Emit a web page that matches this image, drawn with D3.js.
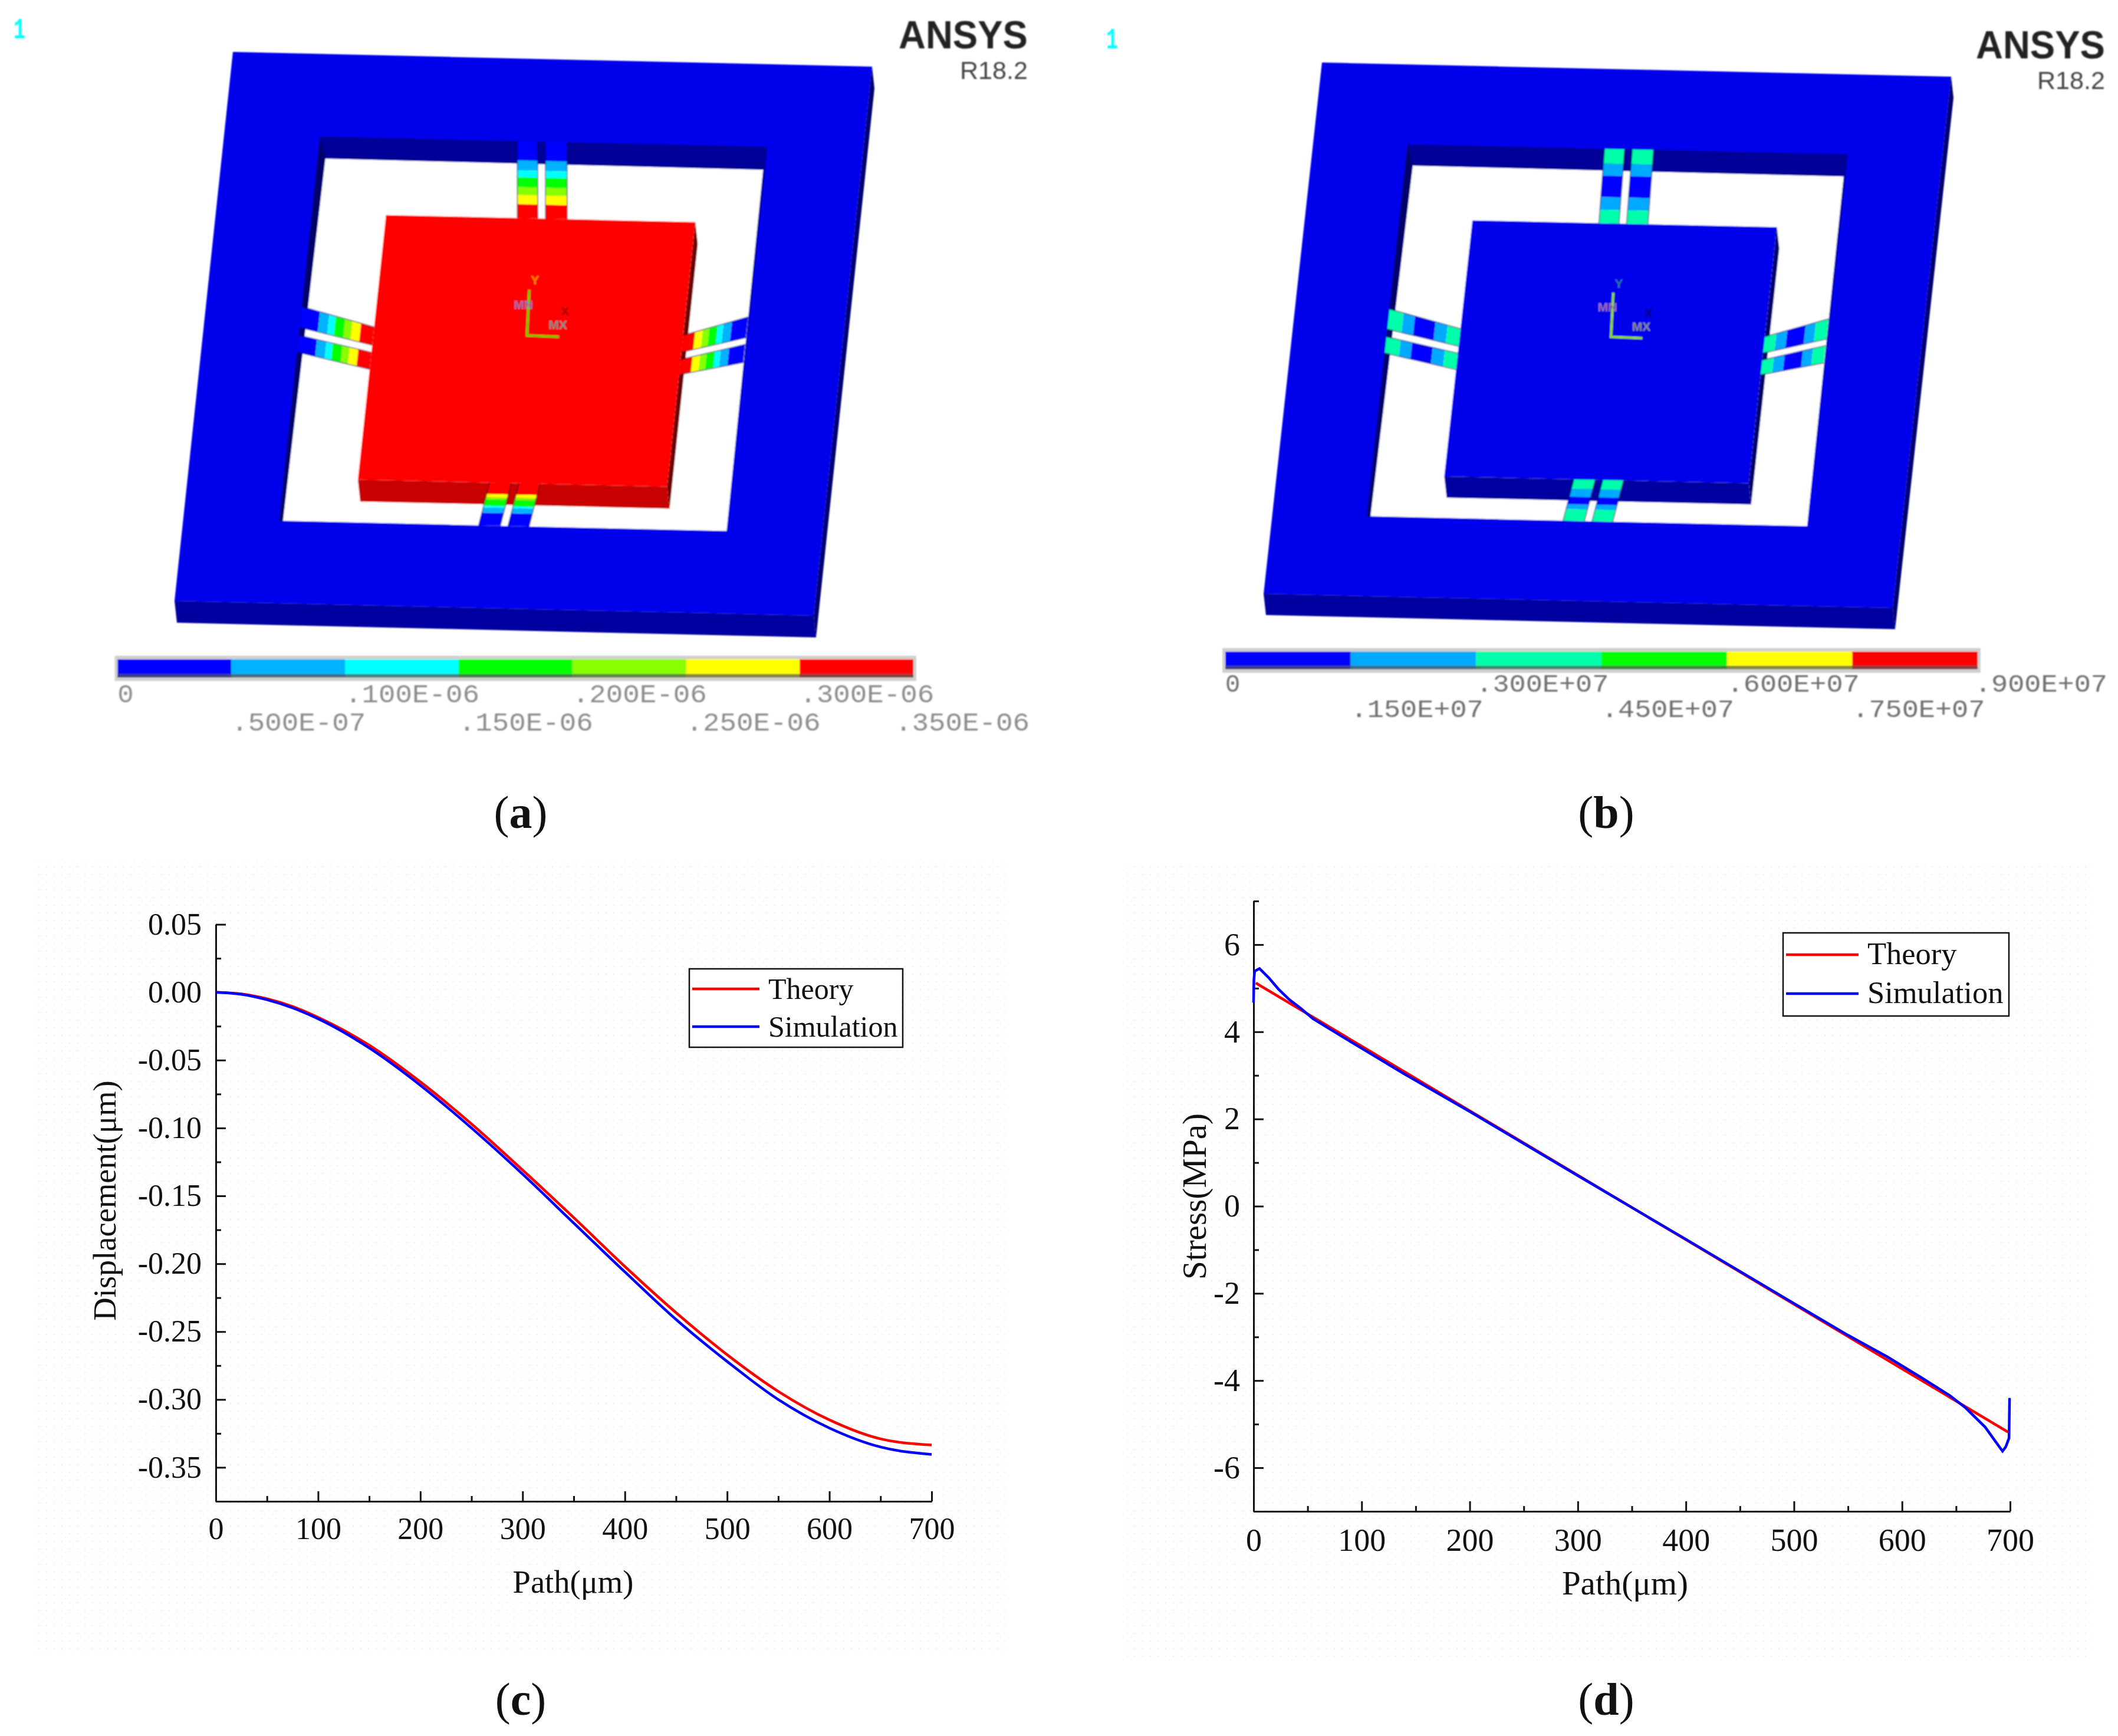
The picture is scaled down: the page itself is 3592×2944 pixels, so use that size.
<!DOCTYPE html>
<html>
<head>
<meta charset="utf-8">
<script src="https://cdn.jsdelivr.net/npm/d3@7"></script>
<style>
body { margin: 0; background: #fff; }
text { font-family: "Liberation Serif", serif; fill: #111; }
.axis path, .axis line { stroke: #111; stroke-width: 3px; }
.axis text { font-family: "Liberation Serif", serif; fill: #111; }
</style>
</head>
<body>
<svg id="fig" width="3592" height="2944"></svg>
<script>
// (c) displacement along the path
var pathC = [0, 25, 50, 75, 100, 150, 200, 250, 300, 350, 400, 450, 500, 550, 600, 650, 700];
var theoryC = [0, -0.0012, -0.0048, -0.0105, -0.0185, -0.039, -0.066, -0.097, -0.131, -0.166, -0.202, -0.236, -0.267, -0.294, -0.315, -0.329, -0.3335];
var simC = [0, -0.0015, -0.0055, -0.0115, -0.0195, -0.041, -0.0685, -0.1, -0.134, -0.17, -0.206, -0.241, -0.272, -0.3, -0.321, -0.335, -0.3405];

// (d) stress along the path
var pathTheoryD = [2, 100, 200, 300, 400, 500, 600, 698];
var theoryD = [5.12, 3.67, 2.19, 0.71, -0.77, -2.25, -3.73, -5.18];
var pathSimD = [0, 0.3, 1, 5.5, 14, 23, 33, 44, 55, 84, 139, 200, 300, 400, 500, 550, 586, 619, 644, 659, 677, 688, 693, 696, 699, 699.5];
var simD = [4.67, 5.2, 5.39, 5.45, 5.24, 4.98, 4.74, 4.53, 4.3, 3.86, 3.04, 2.17, 0.7, -0.76, -2.23, -2.96, -3.45, -3.95, -4.34, -4.63, -5.07, -5.45, -5.62, -5.52, -5.32, -4.4];

// contour legends of the two ANSYS plots
var dispLevels = [0, 0.5e-7, 1e-7, 1.5e-7, 2e-7, 2.5e-7, 3e-7, 3.5e-7];
var dispLabels = ['0', '.500E-07', '.100E-06', '.150E-06', '.200E-06', '.250E-06', '.300E-06', '.350E-06'];
var dispColors = ['#0000ff', '#00b2ff', '#00ffff', '#00ff00', '#88ff00', '#ffff00', '#ff0000'];
var stressLevels = [0, 1.5e6, 3e6, 4.5e6, 6e6, 7.5e6, 9e6];
var stressLabels = ['0', '.150E+07', '.300E+07', '.450E+07', '.600E+07', '.750E+07', '.900E+07'];
var stressColors = ['#0000ff', '#00aaff', '#00ffaa', '#00ff00', '#ffff00', '#ff0000'];

// plate model, in fractions of the outer frame side
var holeEdge = [[0.15, 0.15], [0.85, 0.15], [0.85, 0.85], [0.15, 0.85]];
var holeFloor = [[0.162, 0.19], [0.847, 0.192], [0.85, 0.85], [0.156, 0.85]];
var holeLeftWall = [[0.15, 0.15], [0.162, 0.19], [0.156, 0.85], [0.15, 0.85]];
var massEdge = [[0.266, 0.29], [0.75, 0.29], [0.75, 0.772], [0.266, 0.772]];

// each beam: frame end corners, then mass end corners
var topBeams = [
    [[0.465, 0.15], [0.497, 0.15], [0.465, 0.29], [0.497, 0.29]],
    [[0.509, 0.15], [0.543, 0.15], [0.509, 0.29], [0.543, 0.29]]
];
var bottomBeams = [
    [[0.462, 0.85], [0.496, 0.85], [0.472, 0.772], [0.506, 0.772]],
    [[0.508, 0.85], [0.541, 0.85], [0.518, 0.772], [0.551, 0.772]]
];
var sideBeams = [
    [[0.15, 0.46], [0.15, 0.498], [0.266, 0.494], [0.266, 0.527]],
    [[0.15, 0.512], [0.15, 0.543], [0.266, 0.54], [0.266, 0.571]],
    [[0.848, 0.46], [0.848, 0.498], [0.75, 0.496], [0.75, 0.527]],
    [[0.848, 0.51], [0.848, 0.543], [0.75, 0.54], [0.75, 0.568]]
];

// contour values along a beam, from frame to mass
var dispBeamValues = [0.2e-7, 0.7e-7, 1.2e-7, 1.7e-7, 2.2e-7, 2.7e-7, 3.2e-7];
var dispBeamStops = [0, 0.25, 0.38, 0.47, 0.6, 0.7, 0.82, 1];
var dispBottomStops = [0, 0.3, 0.42, 0.46, 0.61, 0.66, 0.74, 1];
var stressBeamValues = [3.7e6, 2.2e6, 0.7e6, 2.2e6, 3.7e6];
var stressBeamStops = [0, 0.2, 0.36, 0.65, 0.82, 1];
var stressBottomStops = [0, 0.28, 0.4, 0.58, 0.77, 1];

var svg = d3.select('#fig');

// faint print dots behind the line plots
var pattern = svg.append('defs').append('pattern')
    .attr('id', 'dots')
    .attr('width', 13).attr('height', 13)
    .attr('patternUnits', 'userSpaceOnUse');
pattern.append('rect').attr('x', 0).attr('y', 0).attr('width', 2).attr('height', 2).attr('fill', '#ffe6ec');
pattern.append('rect').attr('x', 6).attr('y', 6).attr('width', 2).attr('height', 2).attr('fill', '#f9fae6');

var soft = svg.select('defs').append('filter').attr('id', 'soft');
soft.append('feGaussianBlur').attr('stdDeviation', 0.9);

svg.append('rect').attr('x', 57).attr('y', 1459).attr('width', 1648).attr('height', 1347).attr('fill', 'url(#dots)');
svg.append('rect').attr('x', 1900).attr('y', 1469).attr('width', 1643).attr('height', 1347).attr('fill', 'url(#dots)');

function drawPlate(opts) {
    var g = svg.append('g').attr('filter', 'url(#soft)');

    // frame position on the page through plain scales
    var ux = d3.scaleLinear().domain([0, 1]).range([opts.origin[0], opts.origin[0] + opts.uAxis[0]]);
    var uy = d3.scaleLinear().domain([0, 1]).range([0, opts.uAxis[1]]);
    var vx = d3.scaleLinear().domain([0, 1]).range([0, opts.vAxis[0]]);
    var vy = d3.scaleLinear().domain([0, 1]).range([opts.origin[1], opts.origin[1] + opts.vAxis[1]]);

    var px = function (p) { return ux(p[0]) + vx(p[1]) + (p[2] || 0) * opts.depth[0]; };
    var py = function (p) { return uy(p[0]) + vy(p[1]) + (p[2] || 0) * opts.depth[1]; };
    var line = d3.line().x(px).y(py);

    function poly(points, fill) {
        return g.append('path').attr('d', line(points) + 'Z').attr('fill', fill);
    }

    function prism(edge, front, side, top) {
        poly([edge[1], edge[2], edge[2].concat(1), edge[1].concat(1)], side);
        poly([edge[3], edge[2], edge[2].concat(1), edge[3].concat(1)], front);
        poly(edge, top);
    }

    prism([[0, 0], [1, 0], [1, 1], [0, 1]], '#0000a0', '#000070', '#0000ea');
    poly(holeEdge, '#000099');
    poly(holeLeftWall, '#00006a');
    poly(holeFloor, '#ffffff');
    prism(massEdge, opts.massFront, opts.massSide, opts.massTop);

    var color = d3.scaleThreshold().domain(opts.levels.slice(1, -1)).range(opts.colors);

    function drawBeam(beam, stops) {
        // d3.interpolate hands back the same array each call, so copy it
        var a = d3.interpolate(beam[0], beam[2]);
        var b = d3.interpolate(beam[1], beam[3]);
        opts.beamValues.forEach(function (value, i) {
            var t0 = stops[i], t1 = stops[i + 1];
            poly([a(t0).slice(), a(t1).slice(), b(t1).slice(), b(t0).slice()], color(value));
        });
        g.append('path')
            .attr('d', line([beam[0], beam[2]]) + line([beam[1], beam[3]]))
            .attr('fill', 'none').attr('stroke', opts.beamEdge).attr('stroke-opacity', 0.45).attr('stroke-width', 2);
    }

    // the top beams lean differently in the two views
    function leaned(beam) {
        return [
            [beam[0][0] - opts.topLean, beam[0][1]], [beam[1][0] - opts.topLean, beam[1][1]],
            [beam[2][0] + opts.topLean, beam[2][1]], [beam[3][0] + opts.topLean, beam[3][1]]
        ];
    }

    topBeams.forEach(function (b) { drawBeam(leaned(b), opts.beamStops); });
    sideBeams.forEach(function (b) { drawBeam(b, opts.beamStops); });
    bottomBeams.forEach(function (b) { drawBeam(b, opts.bottomStops); });

    // coordinate triad in the middle of the mass
    g.append('path')
        .attr('d', line([[0.502, 0.42], [0.506, 0.503], [0.556, 0.504]]))
        .attr('fill', 'none').attr('stroke', opts.triad).attr('stroke-width', 4);
    [['Y', 0.51, 0.41, opts.triadY], ['MN', 0.496, 0.455, '#9a6fb0'], ['X', 0.562, 0.465, opts.triadX], ['MX', 0.553, 0.49, '#8a8a8a']].forEach(function (t) {
        g.append('text')
            .attr('x', px([t[1], t[2]])).attr('y', py([t[1], t[2]]))
            .attr('text-anchor', 'middle')
            .style('font-family', 'Liberation Sans').style('font-size', '21px').style('font-weight', 'bold')
            .style('fill', t[3])
            .text(t[0]);
    });

    // contour legend
    var bar = d3.scaleLinear().domain(d3.extent(opts.levels)).range(opts.barRange);
    g.append('rect')
        .attr('x', opts.barRange[0] - 5).attr('y', opts.barTop - 6)
        .attr('width', opts.barRange[1] - opts.barRange[0] + 10).attr('height', opts.barHeight + 18)
        .attr('fill', '#d2d0cd');
    g.selectAll('rect.band').data(opts.colors).enter().append('rect')
        .attr('class', 'band')
        .attr('x', function (d, i) { return bar(opts.levels[i]); })
        .attr('y', opts.barTop)
        .attr('width', function (d, i) { return bar(opts.levels[i + 1]) - bar(opts.levels[i]); })
        .attr('height', opts.barHeight + 6)
        .attr('fill', function (d) { return d; });
    g.append('rect')
        .attr('x', opts.barRange[0]).attr('y', opts.barTop + opts.barHeight)
        .attr('width', opts.barRange[1] - opts.barRange[0]).attr('height', 6)
        .attr('fill', '#555').attr('fill-opacity', 0.7);

    g.selectAll('text.level').data(opts.labels).enter().append('text')
        .attr('class', 'level')
        .attr('x', function (d, i) { return i == opts.labels.length - 1 ? opts.lastLabelX : bar(opts.levels[i]); })
        .attr('y', function (d, i) { return opts.labelRows[i % 2]; })
        .attr('textLength', function (d) { return d.length > 1 ? opts.labelWidth : null; })
        .attr('lengthAdjust', 'spacingAndGlyphs')
        .style('font-family', 'Liberation Mono')
        .style('font-size', opts.labelFont + 'px')
        .style('fill', opts.labelColor)
        .text(function (d) { return d; });

    // ANSYS stamp
    g.append('text')
        .attr('x', opts.stamp[0]).attr('y', opts.stamp[1])
        .attr('textLength', 219).attr('lengthAdjust', 'spacingAndGlyphs')
        .style('font-family', 'Liberation Sans').style('font-weight', 'bold').style('font-size', '66px').style('fill', '#222')
        .text('ANSYS');
    g.append('text')
        .attr('x', opts.stamp[0] + 104).attr('y', opts.stamp[1] + 52)
        .attr('textLength', 115).attr('lengthAdjust', 'spacingAndGlyphs')
        .style('font-family', 'Liberation Sans').style('font-size', '42px').style('fill', '#444')
        .text('R18.2');
    g.append('text')
        .attr('x', opts.winNo[0]).attr('y', opts.winNo[1])
        .attr('textLength', 20).attr('lengthAdjust', 'spacingAndGlyphs')
        .style('font-family', 'Liberation Mono').style('font-weight', 'bold').style('font-size', '50px').style('fill', '#00ffff')
        .text('1');
}

drawPlate({
    origin: [395, 88], uAxis: [1084, 25], vAxis: [-99, 931], depth: [4, 37], topLean: 0.0065,
    massTop: '#ff0000', massFront: '#c80000', massSide: '#6a0000',
    levels: dispLevels, colors: dispColors, labels: dispLabels,
    beamValues: dispBeamValues, beamStops: dispBeamStops, bottomStops: dispBottomStops,
    beamEdge: '#000040', triad: '#66d000', triadY: '#ff8800', triadX: '#a00000',
    barRange: [199.5, 1549], barTop: 1118, barHeight: 25,
    labelRows: [1191, 1239], labelWidth: 228, labelFont: 45, labelColor: '#8d8d8d', lastLabelX: 1518,
    stamp: [1524, 82], winNo: [23, 65]
});

drawPlate({
    origin: [2242, 106], uAxis: [1067, 24], vAxis: [-99, 901], depth: [4, 36], topLean: 0.002,
    massTop: '#0000ea', massFront: '#0000a0', massSide: '#00006a',
    levels: stressLevels, colors: stressColors, labels: stressLabels,
    beamValues: stressBeamValues, beamStops: stressBeamStops, bottomStops: stressBottomStops,
    beamEdge: '#000040', triad: '#90e000', triadY: '#2f6fa0', triadX: '#000070',
    barRange: [2078, 3354], barTop: 1105, barHeight: 24,
    labelRows: [1173, 1216], labelWidth: 225, labelFont: 42, labelColor: '#6f6f6f', lastLabelX: 3349,
    stamp: [3351, 99], winNo: [1876, 82]
});

function drawLines(opts) {
    var xs = d3.scaleLinear().domain([0, 700]).range(opts.xRange);
    var ys = d3.scaleLinear().domain(opts.yDomain).range(opts.yRange);
    var x0 = opts.xRange[0], yBase = opts.yRange[1];
    var g = svg.append('g');

    // minor ticks first, the labelled axis on top
    g.append('g').attr('class', 'axis').attr('transform', 'translate(0,' + yBase + ')')
        .call(d3.axisBottom(xs).tickValues(d3.range(50, 700, 100)).tickFormat('').tickSize(-9).tickSizeOuter(0));
    g.append('g').attr('class', 'axis').attr('transform', 'translate(' + x0 + ',0)')
        .call(d3.axisLeft(ys).tickValues(opts.yMinor).tickFormat('').tickSize(-9).tickSizeOuter(0));

    g.append('g').attr('class', 'axis').attr('transform', 'translate(0,' + yBase + ')')
        .call(d3.axisBottom(xs).tickValues(d3.range(0, 701, 100)).tickSize(-17).tickSizeOuter(0).tickPadding(opts.xPad))
        .selectAll('text').style('font-size', opts.tickFont + 'px');
    g.append('g').attr('class', 'axis').attr('transform', 'translate(' + x0 + ',0)')
        .call(d3.axisLeft(ys).tickValues(opts.yMajor).tickFormat(opts.yFormat).tickSize(-17).tickSizeOuter(0).tickPadding(opts.yPad))
        .selectAll('text').style('font-size', opts.tickFont + 'px');

    var line = d3.line()
        .x(function (d) { return xs(d[0]); })
        .y(function (d) { return ys(d[1]); })
        .curve(opts.curve);

    g.append('path').datum(d3.zip(opts.theoryX, opts.theoryY))
        .attr('d', line).attr('fill', 'none').attr('stroke', '#ff0000').attr('stroke-width', 4.5);
    g.append('path').datum(d3.zip(opts.simX, opts.simY))
        .attr('d', line).attr('fill', 'none').attr('stroke', '#0000ff').attr('stroke-width', 4.5);

    g.append('text')
        .attr('x', opts.xTitle[0]).attr('y', opts.xTitle[1])
        .attr('text-anchor', 'middle')
        .style('font-size', opts.titleFont + 'px')
        .text('Path(μm)');
    g.append('text')
        .attr('transform', 'translate(' + opts.yTitle[0] + ',' + opts.yTitle[1] + ') rotate(-90)')
        .attr('text-anchor', 'middle')
        .style('font-size', opts.titleFont + 'px')
        .text(opts.yLabel);

    // legend
    var b = opts.legend;
    g.append('rect')
        .attr('x', b.x).attr('y', b.y).attr('width', b.w).attr('height', b.h)
        .attr('fill', '#fff').attr('stroke', '#111').attr('stroke-width', 2.5);
    [['Theory', '#ff0000'], ['Simulation', '#0000ff']].forEach(function (row, i) {
        g.append('line')
            .attr('x1', b.x + 5).attr('x2', b.lineEnd)
            .attr('y1', b.rows[i]).attr('y2', b.rows[i])
            .attr('stroke', row[1]).attr('stroke-width', 4.5);
        g.append('text')
            .attr('x', b.textX).attr('y', b.rows[i] + b.baseline)
            .style('font-size', b.font + 'px')
            .text(row[0]);
    });
}

drawLines({
    xRange: [366, 1580], yDomain: [0.05, -0.375], yRange: [1567.6, 2546],
    yMajor: [0.05, 0, -0.05, -0.1, -0.15, -0.2, -0.25, -0.3, -0.35],
    yMinor: [0.025, -0.025, -0.075, -0.125, -0.175, -0.225, -0.275, -0.325, -0.375],
    yFormat: function (d) { return d.toFixed(2); },
    theoryX: pathC, theoryY: theoryC, simX: pathC, simY: simC,
    curve: d3.curveMonotoneX,
    tickFont: 52, titleFont: 54.5, xPad: 27, yPad: 24,
    xTitle: [972, 2701], yTitle: [196, 2036], yLabel: 'Displacement(μm)',
    legend: { x: 1169, y: 1643, w: 362, h: 133, lineEnd: 1288, rows: [1677, 1741], textX: 1303, baseline: 17, font: 50 }
});

drawLines({
    xRange: [2126, 3409], yDomain: [7, -7], yRange: [1528, 2563],
    yMajor: [6, 4, 2, 0, -2, -4, -6],
    yMinor: [7, 5, 3, 1, -1, -3, -5, -7],
    yFormat: function (d) { return d; },
    theoryX: pathTheoryD, theoryY: theoryD, simX: pathSimD, simY: simD,
    curve: d3.curveLinear,
    tickFont: 54, titleFont: 57, xPad: 29, yPad: 23,
    xTitle: [2756, 2704], yTitle: [2045, 2029], yLabel: 'Stress(MPa)',
    legend: { x: 3024, y: 1582, w: 383, h: 141, lineEnd: 3152, rows: [1619, 1685], textX: 3167, baseline: 16, font: 52.5 }
});

// panel captions
[['a', 883, 1404], ['b', 2724, 1404], ['c', 883, 2908], ['d', 2724, 2908]].forEach(function (c) {
    var t = svg.append('text')
        .attr('x', c[1]).attr('y', c[2])
        .attr('text-anchor', 'middle')
        .style('font-size', '78px');
    t.append('tspan').text('(');
    t.append('tspan').style('font-weight', 'bold').text(c[0]);
    t.append('tspan').text(')');
});
</script>
</body>
</html>
